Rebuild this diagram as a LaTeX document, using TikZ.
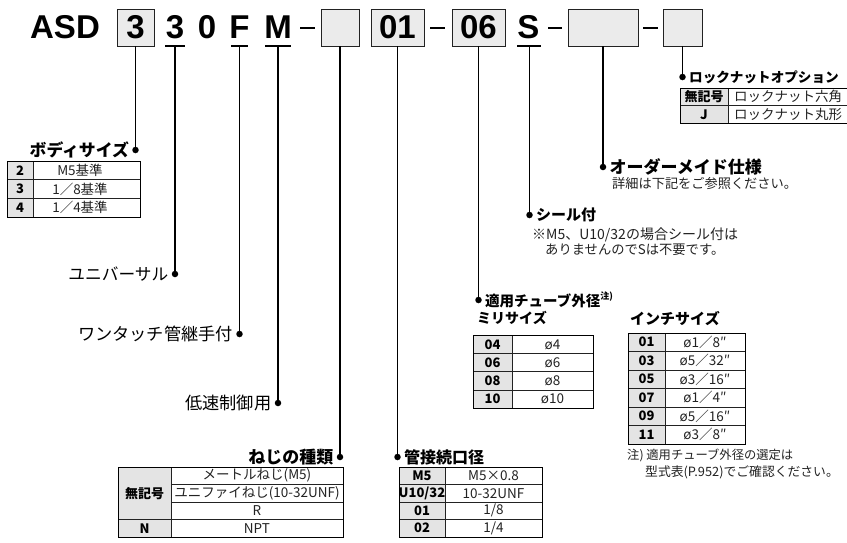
\documentclass[tikz,border=0pt]{standalone}
\usepackage{fontspec}
\setmainfont{Noto Sans CJK JP}
\newfontfamily\titlefont{Liberation Sans}
\definecolor{boxgray}{HTML}{EBEBEB}
\definecolor{keygray}{HTML}{E4E4E4}
\definecolor{inkgray}{HTML}{222222}
\newcommand\fsz[1]{\fontsize{#1}{#1}\selectfont}
\begin{document}
\begin{tikzpicture}[x=1pt,y=-1pt,
  conn/.style={line width=1.2pt},
  dot/.style={circle,fill=black,inner sep=0pt,minimum size=6.5pt},
  codebox/.style={draw=inkgray,fill=boxgray,line width=0.9pt,inner sep=0pt,minimum height=37pt,
     font=\titlefont\bfseries\fsz{33}},
  code/.style={font=\titlefont\bfseries\fsz{33},inner sep=0pt,anchor=base},
  uline/.style={line width=1.6pt},
  dashline/.style={line width=2pt},
  lbl/.style={font=\fsz{16.7},inner sep=0pt},
  head/.style={font=\bfseries\fsz{16.5},inner sep=0pt},
  note/.style={font=\fsz{13},inner sep=0pt,anchor=west,text=inkgray},
  cell/.style={font=\fsz{13.5},inner sep=0pt,text=inkgray},
  key/.style={font=\bfseries\fsz{13},inner sep=0pt,text=black},
  tline/.style={draw=inkgray,line width=0.7pt},
  touter/.style={draw=black,line width=1pt},
  kfill/.style={fill=keygray}]
\useasboundingbox (0,0) rectangle (847,542);

% ---------------- title code ----------------
\node[code] (asd) at (65,38.5) {ASD};
\node[codebox,minimum width=37pt] (b1) at (135.5,27.5) {3};
\node[code] (c3) at (175,38.5) {3};
\node[code] (c0) at (207,38.5) {0};
\node[code] (cF) at (239.5,38.5) {F};
\node[code] (cM) at (278,38.5) {M};
\node[codebox,minimum width=38pt] (b2) at (340,27.5) {};
\node[codebox,minimum width=53pt] (b3) at (397.5,27.5) {01};
\node[codebox,minimum width=53pt] (b4) at (478.5,27.5) {06};
\node[code] (cS) at (528.5,38.5) {S};
\node[codebox,minimum width=70pt] (b5) at (603,27.5) {};
\node[codebox,minimum width=39pt] (b6) at (682.5,27.5) {};
\draw[dashline] (300,28) -- (315,28);
\draw[dashline] (430,28) -- (445,28);
\draw[dashline] (548,28) -- (562,28);
\draw[dashline] (643,28) -- (658,28);
\coordinate (u3) at (175,46);
\coordinate (uF) at (239.5,46);
\coordinate (uM) at (278,46);
\coordinate (uS) at (529.5,46);
\draw[uline] (165,46) -- (185,46);
\draw[uline] (231,46) -- (248,46);
\draw[uline] (265,46) -- (291,46);
\draw[uline] (517,46) -- (541,46);

% ---------------- dots and connectors ----------------
\node[dot] (d1) at (135.5,150) {};
\node[dot] (d2) at (175,274) {};
\node[dot] (d3) at (239.5,334) {};
\node[dot] (d4) at (278,403) {};
\node[dot] (d5) at (340,457) {};
\node[dot] (d6) at (397.5,457) {};
\node[dot] (d7) at (478.5,300) {};
\node[dot] (d8) at (529.5,215) {};
\node[dot] (d9) at (603,167) {};
\node[dot] (d10) at (682.5,77) {};
\draw[conn] (b1.south) -- (d1.center);
\draw[conn] (u3) -- (d2.center);
\draw[conn] (uF) -- (d3.center);
\draw[conn] (uM) -- (d4.center);
\draw[conn] (b2.south) -- (d5.center);
\draw[conn] (b3.south) -- (d6.center);
\draw[conn] (b4.south) -- (d7.center);
\draw[conn] (uS) -- (d8.center);
\draw[conn] (b5.south) -- (d9.center);
\draw[conn] (b6.south) -- (d10.center);

% ---------------- labels ----------------
\node[head,anchor=east,font=\bfseries\fsz{16.8}] (l1) at ([xshift=-3pt]d1.west) {ボディサイズ};
\node[lbl,anchor=east] (l2) at ([xshift=-3pt]d2.west) {ユニバーサル};
\node[lbl,anchor=east,font=\fsz{17.2}] (l3) at ([xshift=-3pt]d3.west) {ワンタッチ管継手付};
\node[lbl,anchor=east,font=\fsz{17.2}] (l4) at ([xshift=-3pt]d4.west) {低速制御用};
\node[head,anchor=east,font=\bfseries\fsz{17}] (l5) at ([xshift=-3pt]d5.west) {ねじの種類};
\node[head,anchor=west,font=\bfseries\fsz{16}] (l6) at ([xshift=3pt]d6.east) {管接続口径};
\node[head,anchor=west,font=\bfseries\fsz{14.5}] (l7) at ([xshift=3pt]d7.east) {適用チューブ外径\raisebox{0.45em}{\fsz{9}注)}};
\node[head,anchor=west,font=\bfseries\fsz{15}] (l8) at ([xshift=3pt]d8.east) {シール付};
\node[head,anchor=west,font=\bfseries\fsz{17}] (l9) at ([xshift=3pt]d9.east) {オーダーメイド仕様};
\node[head,anchor=west,font=\bfseries\fsz{13.6}] (l10) at ([xshift=3pt]d10.east) {ロックナットオプション};

\node[note,font=\fsz{14}] (n8a) at (532,235) {※M5、U10/32の場合シール付は};
\node[note,font=\fsz{13.3}] (n8b) at (545,250) {ありませんのでSは不要です。};
\node[note,font=\fsz{13.2}] (n9) at (612,183) {詳細は下記をご参照ください。};
\node[head,anchor=west,font=\bfseries\fsz{14}] (milli) at (477,318) {ミリサイズ};
\node[head,anchor=west,font=\bfseries\fsz{15}] (inch) at (630,319) {インチサイズ};
\node[note,font=\fsz{12.3}] (n7a) at (627,455) {注) 適用チューブ外径の選定は};
\node[note,font=\fsz{12.8}] (n7b) at (645,472) {型式表(P.952)でご確認ください。};

% ---------------- table: body size ----------------
\fill[kfill] (7,161) rectangle (33,217);
\draw[tline] (33,161) -- (33,217);
\draw[tline] (7,179.7) -- (140,179.7);
\draw[tline] (7,198.3) -- (140,198.3);
\draw[touter] (7,161) rectangle (140,217);
\node[key] (k1a) at (20,170.3) {2};
\node[cell] (v1a) at (80,170.3) {M5基準};
\node[key] (k1b) at (20,189) {3};
\node[cell] (v1b) at (80,189) {1／8基準};
\node[key] (k1c) at (20,207.7) {4};
\node[cell] (v1c) at (80,207.7) {1／4基準};

% ---------------- table: thread type ----------------
\fill[kfill] (118,467) rectangle (171,537);
\draw[tline] (171,467) -- (171,537);
\draw[tline] (171,484.5) -- (343,484.5);
\draw[tline] (171,502) -- (343,502);
\draw[tline] (118,519.5) -- (343,519.5);
\draw[touter] (118,467) rectangle (343,537);
\node[key] (k5a) at (144.5,493.25) {無記号};
\node[key] (k5b) at (144.5,528.25) {N};
\node[cell] (v5a) at (257,475.75) {メートルねじ(M5)};
\node[cell] (v5b) at (257,493.25) {ユニファイねじ(10-32UNF)};
\node[cell] (v5c) at (257,510.75) {R};
\node[cell] (v5d) at (257,528.25) {NPT};

% ---------------- table: port size ----------------
\fill[kfill] (399,467) rectangle (445,537);
\draw[tline] (445,467) -- (445,537);
\foreach \yy in {484.5,502,519.5} \draw[tline] (399,\yy) -- (542,\yy);
\draw[touter] (399,467) rectangle (542,537);
\node[key] (k6a) at (422,475.75) {M5};
\node[key] (k6b) at (422,493.25) {U10/32};
\node[key] (k6c) at (422,510.75) {01};
\node[key] (k6d) at (422,528.25) {02};
\node[cell] (v6a) at (493.5,475.75) {M5×0.8};
\node[cell] (v6b) at (493.5,493.25) {10-32UNF};
\node[cell] (v6c) at (493.5,510.75) {1/8};
\node[cell] (v6d) at (493.5,528.25) {1/4};

% ---------------- table: tube OD (mm) ----------------
\fill[kfill] (473,335.5) rectangle (512,408);
\draw[tline] (512,335.5) -- (512,408);
\foreach \yy in {353.6,371.8,389.9} \draw[tline] (473,\yy) -- (593,\yy);
\draw[touter] (473,335.5) rectangle (593,408);
\node[key] (k7a) at (492.5,344.6) {04};
\node[key] (k7b) at (492.5,362.7) {06};
\node[key] (k7c) at (492.5,380.9) {08};
\node[key] (k7d) at (492.5,399) {10};
\node[cell] (v7a) at (552.5,344.6) {ø4};
\node[cell] (v7b) at (552.5,362.7) {ø6};
\node[cell] (v7c) at (552.5,380.9) {ø8};
\node[cell] (v7d) at (552.5,399) {ø10};

% ---------------- table: tube OD (inch) ----------------
\fill[kfill] (628,333) rectangle (665,444);
\draw[tline] (665,333) -- (665,444);
\foreach \yy in {351.5,370,388.5,407,425.5} \draw[tline] (628,\yy) -- (745,\yy);
\draw[touter] (628,333) rectangle (745,444);
\node[key] (k8a) at (646.5,342.25) {01};
\node[key] (k8b) at (646.5,360.75) {03};
\node[key] (k8c) at (646.5,379.25) {05};
\node[key] (k8d) at (646.5,397.75) {07};
\node[key] (k8e) at (646.5,416.25) {09};
\node[key] (k8f) at (646.5,434.75) {11};
\node[cell] (v8a) at (705,342.25) {ø1／8″};
\node[cell] (v8b) at (705,360.75) {ø5／32″};
\node[cell] (v8c) at (705,379.25) {ø3／16″};
\node[cell] (v8d) at (705,397.75) {ø1／4″};
\node[cell] (v8e) at (705,416.25) {ø5／16″};
\node[cell] (v8f) at (705,434.75) {ø3／8″};

% ---------------- table: lock nut ----------------
\fill[kfill] (680,88) rectangle (728,123);
\draw[tline] (728,88) -- (728,123);
\draw[tline] (680,105.5) -- (852,105.5);
\draw[touter] (680,88) rectangle (852,123);
\node[key] (k10a) at (704,96.75) {無記号};
\node[key] (k10b) at (704,114.25) {J};
\node[cell,anchor=west] (v10a) at (734,96.75) {ロックナット六角};
\node[cell,anchor=west] (v10b) at (734,114.25) {ロックナット丸形};
\end{tikzpicture}
\end{document}
